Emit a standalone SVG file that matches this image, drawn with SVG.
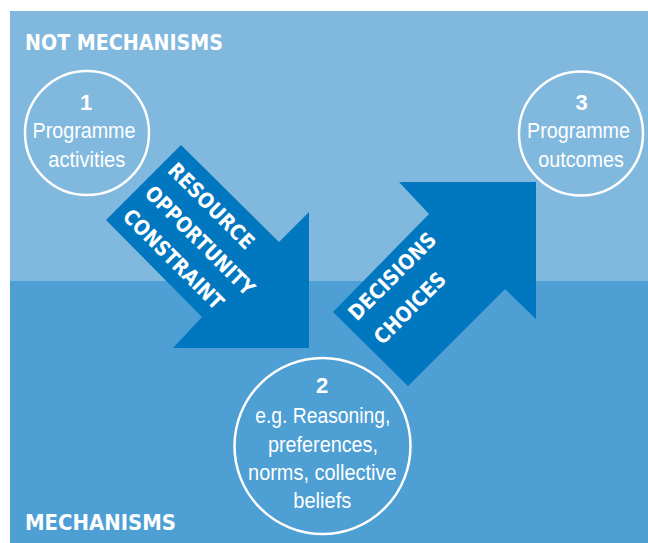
<svg xmlns="http://www.w3.org/2000/svg" width="648" height="543" viewBox="0 0 648 543">
<style>
.node circle{fill:none;stroke:#fff;stroke-width:2.5}
.ct{font-family:"Liberation Sans",Arial,sans-serif;font-size:22px;fill:#fff;text-anchor:middle}
.num{font-weight:bold}
.hd{font-family:"DejaVu Sans",sans-serif;font-weight:bold;font-size:22px;fill:#fff}
.at{font-family:"DejaVu Sans",sans-serif;font-weight:bold;font-size:21px;fill:#fff}
.arrow{fill:#0077BF}
</style>
<rect x="10" y="11" width="638" height="270" fill="#80B8DE"/>
<rect x="10" y="281" width="638" height="262" fill="#4D9FD4"/>
<g id="zone-labels">
<text class="hd" x="25" y="49.5" textLength="198" lengthAdjust="spacingAndGlyphs">NOT MECHANISMS</text>
<text class="hd" x="25" y="529.5" textLength="151" lengthAdjust="spacingAndGlyphs">MECHANISMS</text>
</g>
<g id="connectors">
<g id="arrow-resource">
<polygon class="arrow" points="106,220 181,145 279,242 309,212 309,348 173,348 202,317"/>
<g transform="rotate(45)">
<text class="at" x="239" y="3.5" textLength="112" lengthAdjust="spacingAndGlyphs">RESOURCE</text>
<text class="at" x="239" y="36" textLength="145" lengthAdjust="spacingAndGlyphs">OPPORTUNITY</text>
<text class="at" x="240" y="68" textLength="132" lengthAdjust="spacingAndGlyphs">CONSTRAINT</text>
</g>
</g>
<g id="arrow-decisions">
<polygon class="arrow" points="333,312 429,214 399,182 536,182 536,319 505,289 408,386"/>
<g transform="rotate(-45)">
<text class="at" x="25" y="480" textLength="114" lengthAdjust="spacingAndGlyphs">DECISIONS</text>
<text class="at" x="26" y="515" textLength="92" lengthAdjust="spacingAndGlyphs">CHOICES</text>
</g>
</g>
</g>
<g id="node1" class="node">
<circle cx="87" cy="133" r="62"/>
<text class="ct num" x="86" y="110">1</text>
<text class="ct" x="84" y="137.7" textLength="103" lengthAdjust="spacingAndGlyphs">Programme</text>
<text class="ct" x="86.8" y="166.7" textLength="77" lengthAdjust="spacingAndGlyphs">activities</text>
</g>
<g id="node3" class="node">
<circle cx="581" cy="133.5" r="62"/>
<text class="ct num" x="581.5" y="110">3</text>
<text class="ct" x="578.5" y="137.7" textLength="103" lengthAdjust="spacingAndGlyphs">Programme</text>
<text class="ct" x="581" y="166.7" textLength="85.6" lengthAdjust="spacingAndGlyphs">outcomes</text>
</g>
<g id="node2" class="node">
<circle cx="322.5" cy="446" r="88"/>
<text class="ct num" x="322" y="392.5">2</text>
<text class="ct" x="322.8" y="422.7" textLength="135" lengthAdjust="spacingAndGlyphs">e.g. Reasoning,</text>
<text class="ct" x="323" y="451.5" textLength="110" lengthAdjust="spacingAndGlyphs">preferences,</text>
<text class="ct" x="322.3" y="479.5" textLength="148.5" lengthAdjust="spacingAndGlyphs">norms, collective</text>
<text class="ct" x="322.3" y="508" textLength="58" lengthAdjust="spacingAndGlyphs">beliefs</text>
</g>
</svg>
